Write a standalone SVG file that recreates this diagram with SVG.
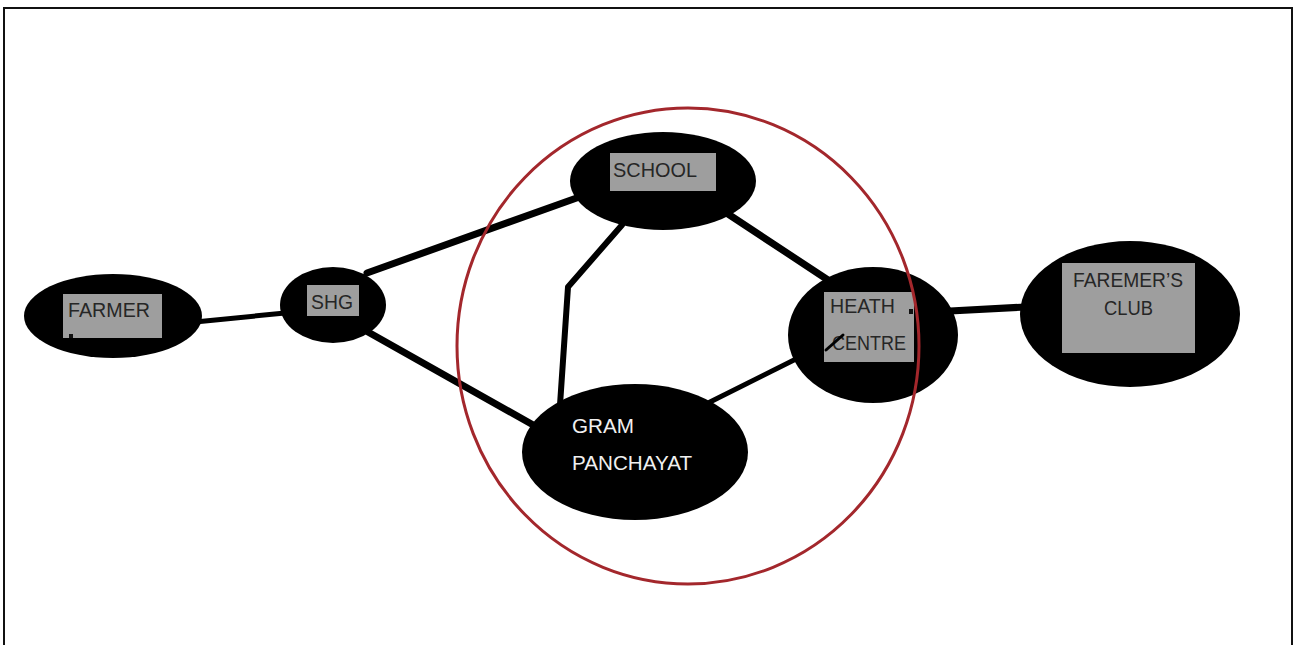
<svg xmlns="http://www.w3.org/2000/svg" width="1296" height="645" viewBox="0 0 1296 645">
<style>
.node{fill:#000}
.lbl{fill:#9e9e9e}
.t{font-family:"Liberation Sans",Arial,sans-serif;font-size:20px;fill:#262626}
.tw{font-family:"Liberation Sans",Arial,sans-serif;font-size:20px;fill:#f0f0f0}
.c{stroke:#000;fill:none;stroke-linecap:round;stroke-linejoin:round}
</style>
<rect x="0" y="0" width="1296" height="645" fill="#fff"/>
<rect x="4" y="8" width="1288" height="650" fill="none" stroke="#111" stroke-width="2"/>
<g id="connectors">
<line class="c" x1="195" y1="322" x2="285" y2="313" stroke-width="5"/>
<line class="c" x1="367" y1="273" x2="585" y2="195" stroke-width="7"/>
<line class="c" x1="368" y1="332" x2="535" y2="426" stroke-width="7"/>
<polyline class="c" points="622,225 568,287 560,405" stroke-width="6"/>
<line class="c" x1="728" y1="214" x2="828" y2="280" stroke-width="7"/>
<line class="c" x1="710" y1="402" x2="800" y2="357" stroke-width="5"/>
<line class="c" x1="950" y1="311" x2="1025" y2="307" stroke-width="7"/>
</g>
<g id="farmer">
<ellipse class="node" cx="113" cy="316" rx="89" ry="42"/>
<rect class="lbl" x="63" y="294" width="99" height="44"/>
<text class="t" x="68" y="317" textLength="82" lengthAdjust="spacingAndGlyphs">FARMER</text>
<rect x="69" y="334" width="4" height="4" fill="#111"/>
</g>
<g id="shg">
<ellipse class="node" cx="333" cy="305" rx="53" ry="38"/>
<rect class="lbl" x="307" y="285" width="52" height="31"/>
<text class="t" x="311" y="309" textLength="42" lengthAdjust="spacingAndGlyphs">SHG</text>
</g>
<g id="school">
<ellipse class="node" cx="663" cy="181" rx="93" ry="49"/>
<rect class="lbl" x="610" y="153" width="106" height="38"/>
<text class="t" x="613" y="177" textLength="84" lengthAdjust="spacingAndGlyphs">SCHOOL</text>
</g>
<g id="heath-centre">
<ellipse class="node" cx="873" cy="335" rx="85" ry="68"/>
<rect class="lbl" x="824" y="292" width="90" height="70"/>
<text class="t" x="830" y="313" textLength="65" lengthAdjust="spacingAndGlyphs">HEATH</text>
<text class="t" x="832" y="350" textLength="74" lengthAdjust="spacingAndGlyphs">CENTRE</text>
<line x1="826" y1="350" x2="843" y2="335" stroke="#000" stroke-width="3" stroke-linecap="round"/>
<rect x="909" y="309" width="4" height="5" fill="#111"/>
</g>
<g id="farmers-club">
<ellipse class="node" cx="1130" cy="314" rx="110" ry="73"/>
<rect class="lbl" x="1062" y="263" width="133" height="90"/>
<text class="t" x="1073" y="287" textLength="110" lengthAdjust="spacingAndGlyphs">FAREMER’S</text>
<text class="t" x="1104" y="315" textLength="49" lengthAdjust="spacingAndGlyphs">CLUB</text>
</g>
<g id="gram-panchayat">
<ellipse class="node" cx="635" cy="452" rx="113" ry="68"/>
<text class="tw" x="572" y="433" textLength="62" lengthAdjust="spacingAndGlyphs">GRAM</text>
<text class="tw" x="572" y="470" textLength="120" lengthAdjust="spacingAndGlyphs">PANCHAYAT</text>
</g>
<ellipse id="focus-circle" cx="688" cy="346" rx="231" ry="238" fill="none" stroke="#a3272c" stroke-width="3"/>
</svg>
